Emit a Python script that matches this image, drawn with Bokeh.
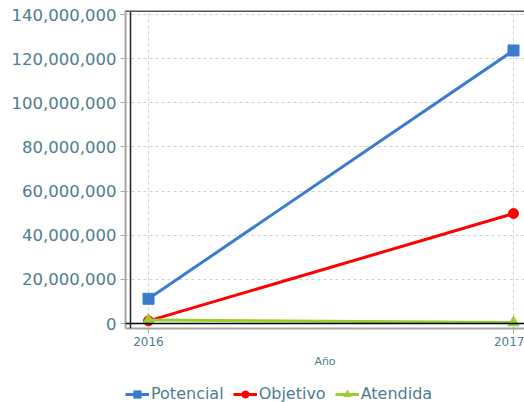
from bokeh.plotting import figure
from bokeh.layouts import column
from bokeh.models import Span, Legend, LegendItem, FixedTicker, NumeralTickFormatter, Range1d
from bokeh.embed import file_html
from bokeh.resources import INLINE

years = [2016, 2017]
potencial = [11200000, 123700000]
objetivo = [1200000, 49800000]
atendida = [1600000, 400000]
y_ticks = [0, 20000000, 40000000, 60000000, 80000000, 100000000, 120000000, 140000000]
legend_labels = ["Potencial", "Objetivo", "Atendida"]

TXT = "#4d7d8b"
AX = "#a6a6a6"
FONT = "DejaVu Sans"
C1, C2, C3 = "#3a7bd0", "#ff0000", "#9acd32"

FH = 318
px_per_m = (FH - 9) / 140.0
p = figure(frame_width=399, frame_height=FH, output_backend="svg", toolbar_location=None,
           x_range=Range1d(2016 - 23 / 365.0, 2017 + 11 / 365.0),
           y_range=Range1d(-5 / px_per_m * 1e6, 140e6 + 4 / px_per_m * 1e6),
           min_border_left=125, min_border_top=10, min_border_right=0, min_border_bottom=0)
p.outline_line_color = None
p.background_fill_color = "white"

p.yaxis.ticker = FixedTicker(ticks=y_ticks)
p.yaxis.formatter = NumeralTickFormatter(format="0,0")
p.xaxis.ticker = FixedTicker(ticks=years)
p.xaxis.axis_label = "Año"

for ax in (p.xaxis[0], p.yaxis[0]):
    ax.axis_line_color = AX
    ax.axis_line_width = 2
    ax.major_tick_line_color = AX
    ax.major_tick_line_width = 1
    ax.major_tick_out = 5
    ax.major_tick_in = 0
    ax.minor_tick_line_color = None
    ax.major_label_text_color = TXT
    ax.major_label_text_font = FONT
p.yaxis.major_label_text_font_size = "16.5px"
p.yaxis.major_label_standoff = 4
p.xaxis.major_label_text_font_size = "12px"
p.xaxis.major_label_standoff = 3
p.xaxis.axis_label_text_font_size = "11px"
p.xaxis.axis_label_text_font_style = "normal"
p.xaxis.axis_label_text_color = TXT
p.xaxis.axis_label_text_font = FONT
p.xaxis.axis_label_standoff = 6

for g in (p.xgrid[0], p.ygrid[0]):
    g.grid_line_color = "#d0d0d0"
    g.grid_line_dash = "3 3"
    g.grid_line_width = 1
p.ygrid.ticker = FixedTicker(ticks=y_ticks[1:])
p.xgrid.ticker = FixedTicker(ticks=years)

# inner frame lines
p.add_layout(Span(location=0, dimension="width", line_color="black", line_width=1.5))
p.add_layout(Span(location=2016 - 18 / 365.0, dimension="height", line_color="#222222", line_width=1.5))
p.add_layout(Span(location=140e6 + 3.5 / px_per_m * 1e6, dimension="width", line_color="#555555", line_width=2))

p.line(years, potencial, line_color=C1, line_width=3)
p.scatter(years, potencial, marker="square", size=11, fill_color=C1, line_color=C1)
p.line(years, objetivo, line_color=C2, line_width=3)
p.scatter(years, objetivo, marker="circle", size=10, fill_color=C2, line_color=C2)
p.line(years, atendida, line_color=C3, line_width=3)
p.scatter(years, atendida, marker="triangle", size=11, fill_color=C3, line_color=C3)

# legend strip below the chart
p2 = figure(width=524, height=34, output_backend="svg", toolbar_location=None,
            x_axis_type=None, y_axis_type=None,
            x_range=Range1d(0, 1), y_range=Range1d(0, 1),
            min_border_left=0, min_border_right=0, min_border_top=0, min_border_bottom=0)
p2.outline_line_color = None
p2.xgrid.visible = False
p2.ygrid.visible = False
nan = float("nan")
l1 = p2.line([nan], [nan], line_color=C1, line_width=3)
m1 = p2.scatter([nan], [nan], marker="square", size=11, fill_color=C1, line_color=C1)
l2 = p2.line([nan], [nan], line_color=C2, line_width=3)
m2 = p2.scatter([nan], [nan], marker="circle", size=10, fill_color=C2, line_color=C2)
l3 = p2.line([nan], [nan], line_color=C3, line_width=3)
m3 = p2.scatter([nan], [nan], marker="triangle", size=11, fill_color=C3, line_color=C3)

legend = Legend(items=[LegendItem(label=legend_labels[0], renderers=[l1, m1]),
                       LegendItem(label=legend_labels[1], renderers=[l2, m2]),
                       LegendItem(label=legend_labels[2], renderers=[l3, m3])],
                orientation="horizontal", location=(0, 1),
                label_text_font=FONT, label_text_font_size="16px", label_text_color=TXT,
                glyph_width=24, glyph_height=18, label_standoff=2, spacing=9, padding=0, margin=0,
                label_height=18,
                border_line_color=None, background_fill_alpha=0)
p2.add_layout(legend, "center")

layout = column(p, p2, spacing=0)
open("out.html", "w").write(file_html(layout, INLINE))
